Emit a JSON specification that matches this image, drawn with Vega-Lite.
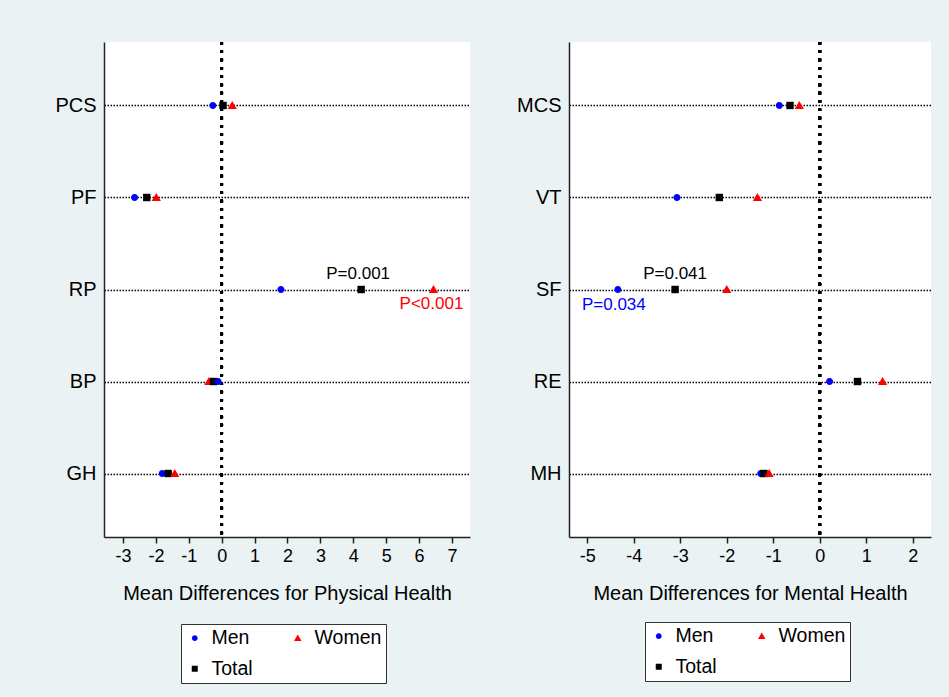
{
  "$schema": "https://vega.github.io/schema/vega-lite/v6.json",
  "autosize": {"type": "pad"},
  "padding": {"left": 54, "top": 40, "right": 25, "bottom": 20},
  "background": "#EAF2F3",
  "bounds": "flush",
  "spacing": 99,
  "config": {
    "font": "Liberation Sans",
    "view": {"fill": "white", "stroke": null},
    "axis": {"domainColor": "#222222", "tickColor": "#222222", "labelColor": "black", "titleColor": "black", "titleFontWeight": "normal", "titleFont": "Liberation Sans", "labelFont": "Liberation Sans", "domainWidth": 1.5},
    "axisX": {"labelFontSize": 18, "titleFontSize": 20, "tickSize": 6, "tickWidth": 1.5, "labelPadding": 4, "titlePadding": 18, "grid": false, "labelFlush": false, "labelOverlap": false},
    "axisY": {"labelFontSize": 20, "ticks": false, "labelPadding": 8, "grid": true, "gridColor": "black", "gridDash": [1.5, 1.5], "gridWidth": 1.3},
    "legend": {"title": null, "orient": "none", "columns": 2, "direction": "horizontal", "labelFontSize": 19.5, "labelColor": "black", "symbolSize": 36, "strokeColor": "#333333", "fillColor": "white", "padding": 4, "columnPadding": 35, "rowPadding": 10, "labelOffset": 7}
  },
  "data": {"values": [
    {"panel": "Physical", "measure": "PCS", "group": "Men", "value": -0.27},
    {"panel": "Physical", "measure": "PCS", "group": "Total", "value": 0.04},
    {"panel": "Physical", "measure": "PCS", "group": "Women", "value": 0.32},
    {"panel": "Physical", "measure": "PF", "group": "Men", "value": -2.65},
    {"panel": "Physical", "measure": "PF", "group": "Total", "value": -2.28},
    {"panel": "Physical", "measure": "PF", "group": "Women", "value": -1.99},
    {"panel": "Physical", "measure": "RP", "group": "Men", "value": 1.80},
    {"panel": "Physical", "measure": "RP", "group": "Total", "value": 4.24, "p": "P=0.001"},
    {"panel": "Physical", "measure": "RP", "group": "Women", "value": 6.44, "p": "P<0.001"},
    {"panel": "Physical", "measure": "BP", "group": "Women", "value": -0.39},
    {"panel": "Physical", "measure": "BP", "group": "Total", "value": -0.25},
    {"panel": "Physical", "measure": "BP", "group": "Men", "value": -0.11},
    {"panel": "Physical", "measure": "GH", "group": "Men", "value": -1.81},
    {"panel": "Physical", "measure": "GH", "group": "Total", "value": -1.63},
    {"panel": "Physical", "measure": "GH", "group": "Women", "value": -1.43},
    {"panel": "Mental", "measure": "MCS", "group": "Men", "value": -0.87},
    {"panel": "Mental", "measure": "MCS", "group": "Total", "value": -0.64},
    {"panel": "Mental", "measure": "MCS", "group": "Women", "value": -0.44},
    {"panel": "Mental", "measure": "VT", "group": "Men", "value": -3.07},
    {"panel": "Mental", "measure": "VT", "group": "Total", "value": -2.16},
    {"panel": "Mental", "measure": "VT", "group": "Women", "value": -1.34},
    {"panel": "Mental", "measure": "SF", "group": "Men", "value": -4.34, "p": "P=0.034"},
    {"panel": "Mental", "measure": "SF", "group": "Total", "value": -3.11, "p": "P=0.041"},
    {"panel": "Mental", "measure": "SF", "group": "Women", "value": -2.00},
    {"panel": "Mental", "measure": "RE", "group": "Men", "value": 0.21},
    {"panel": "Mental", "measure": "RE", "group": "Total", "value": 0.81},
    {"panel": "Mental", "measure": "RE", "group": "Women", "value": 1.35},
    {"panel": "Mental", "measure": "MH", "group": "Men", "value": -1.27},
    {"panel": "Mental", "measure": "MH", "group": "Total", "value": -1.20},
    {"panel": "Mental", "measure": "MH", "group": "Women", "value": -1.09}
  ]},
  "resolve": {
    "scale": {"x": "independent", "y": "independent", "color": "independent", "shape": "independent"},
    "legend": {"color": "independent", "shape": "independent"}
  },
  "hconcat": [
    {
      "width": 366,
      "height": 495,
      "transform": [{"filter": "datum.panel === 'Physical'"}],
      "layer": [
        {
          "mark": {"type": "rule", "strokeDash": [2.7, 5.6], "strokeWidth": 2.6, "color": "black"},
          "encoding": {"x": {"datum": 0, "type": "quantitative", "scale": {"domain": [-3.58, 7.55], "nice": false, "zero": false}, "axis": {"values": [-3, -2, -1, 0, 1, 2, 3, 4, 5, 6, 7], "tickCount": 30, "labelOverlap": false, "labelExpr": "datum.value < 0 ? '-' + abs(datum.value) : '' + datum.value", "title": "Mean Differences for Physical Health"}}}
        },
        {
          "mark": {"type": "point", "filled": true, "opacity": 1, "size": 55},
          "encoding": {
            "x": {"field": "value", "type": "quantitative", "scale": {"domain": [-3.58, 7.55], "nice": false, "zero": false}, "axis": {"values": [-3, -2, -1, 0, 1, 2, 3, 4, 5, 6, 7], "tickCount": 30, "labelOverlap": false, "labelExpr": "datum.value < 0 ? '-' + abs(datum.value) : '' + datum.value", "title": "Mean Differences for Physical Health"}},
            "y": {"field": "measure", "type": "nominal", "sort": ["PCS", "PF", "RP", "BP", "GH"], "scale": {"type": "point", "padding": 0.69}, "axis": {"title": null}},
            "color": {"field": "group", "type": "nominal", "title": null, "scale": {"domain": ["Men", "Women", "Total"], "range": ["#0000FF", "#FF0000", "#000000"]},
              "legend": {"legendX": 77, "legendY": 582}},
            "shape": {"field": "group", "type": "nominal", "title": null, "scale": {"domain": ["Men", "Women", "Total"], "range": ["M0.95,0A0.95,0.95 0 1,1 -0.95,0A0.95,0.95 0 1,1 0.95,0Z", "M0,-1.2L1.25,0.95L-1.25,0.95Z", "M-1,-1H1V1H-1Z"]}}
          }
        },
        {
          "transform": [{"filter": "datum.p && datum.group === 'Total'"}],
          "mark": {"type": "text", "dy": -16, "dx": -3, "fontSize": 17, "color": "black"},
          "encoding": {
            "x": {"field": "value", "type": "quantitative"},
            "y": {"field": "measure", "type": "nominal", "sort": ["PCS", "PF", "RP", "BP", "GH"]},
            "text": {"field": "p"}
          }
        },
        {
          "transform": [{"filter": "datum.p && datum.group === 'Women'"}],
          "mark": {"type": "text", "dy": 14, "dx": -2, "fontSize": 17, "color": "#FF0000"},
          "encoding": {
            "x": {"field": "value", "type": "quantitative"},
            "y": {"field": "measure", "type": "nominal", "sort": ["PCS", "PF", "RP", "BP", "GH"]},
            "text": {"field": "p"}
          }
        }
      ]
    },
    {
      "width": 362,
      "height": 495,
      "transform": [{"filter": "datum.panel === 'Mental'"}],
      "layer": [
        {
          "mark": {"type": "rule", "strokeDash": [2.7, 5.6], "strokeWidth": 2.6, "color": "black"},
          "encoding": {"x": {"datum": 0, "type": "quantitative", "scale": {"domain": [-5.39, 2.39], "nice": false, "zero": false}, "axis": {"values": [-5, -4, -3, -2, -1, 0, 1, 2], "tickCount": 30, "labelOverlap": false, "labelExpr": "datum.value < 0 ? '-' + abs(datum.value) : '' + datum.value", "title": "Mean Differences for Mental Health"}}}
        },
        {
          "mark": {"type": "point", "filled": true, "opacity": 1, "size": 55},
          "encoding": {
            "x": {"field": "value", "type": "quantitative", "scale": {"domain": [-5.39, 2.39], "nice": false, "zero": false}, "axis": {"values": [-5, -4, -3, -2, -1, 0, 1, 2], "tickCount": 30, "labelOverlap": false, "labelExpr": "datum.value < 0 ? '-' + abs(datum.value) : '' + datum.value", "title": "Mean Differences for Mental Health"}},
            "y": {"field": "measure", "type": "nominal", "sort": ["MCS", "VT", "SF", "RE", "MH"], "scale": {"type": "point", "padding": 0.69}, "axis": {"title": null}},
            "color": {"field": "group", "type": "nominal", "title": null, "scale": {"domain": ["Men", "Women", "Total"], "range": ["#0000FF", "#FF0000", "#000000"]},
              "legend": {"legendX": 76, "legendY": 580}},
            "shape": {"field": "group", "type": "nominal", "title": null, "scale": {"domain": ["Men", "Women", "Total"], "range": ["M0.95,0A0.95,0.95 0 1,1 -0.95,0A0.95,0.95 0 1,1 0.95,0Z", "M0,-1.2L1.25,0.95L-1.25,0.95Z", "M-1,-1H1V1H-1Z"]}}
          }
        },
        {
          "transform": [{"filter": "datum.p && datum.group === 'Total'"}],
          "mark": {"type": "text", "dy": -16, "fontSize": 17, "color": "black"},
          "encoding": {
            "x": {"field": "value", "type": "quantitative"},
            "y": {"field": "measure", "type": "nominal", "sort": ["MCS", "VT", "SF", "RE", "MH"]},
            "text": {"field": "p"}
          }
        },
        {
          "transform": [{"filter": "datum.p && datum.group === 'Men'"}],
          "mark": {"type": "text", "dy": 15, "dx": -4, "fontSize": 17, "color": "#0000FF"},
          "encoding": {
            "x": {"field": "value", "type": "quantitative"},
            "y": {"field": "measure", "type": "nominal", "sort": ["MCS", "VT", "SF", "RE", "MH"]},
            "text": {"field": "p"}
          }
        }
      ]
    }
  ]
}
